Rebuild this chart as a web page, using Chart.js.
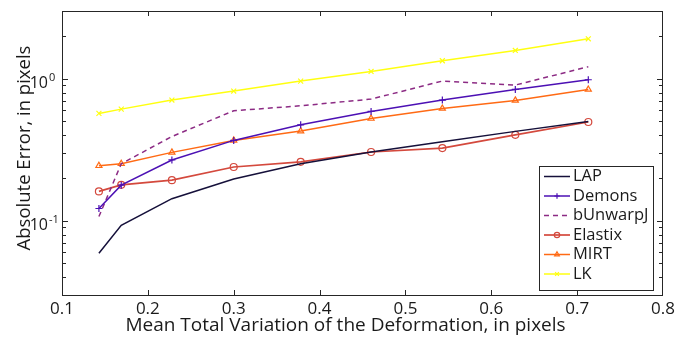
<!DOCTYPE html>
<html lang="en">
<head>
    <meta charset="UTF-8">
    <title>Absolute Error</title>
    <script src="https://cdn.jsdelivr.net/npm/chart.js@4"></script>
    <style>
        html, body { margin: 0; padding: 0; background: #fff; }
        .container-grafico { width: 691px; height: 339px; }
    </style>
</head>
<body>
    <div class="container-grafico">
        <canvas id="myChart"></canvas>
    </div>
<script>
    // valores
    var variacao = [0.143, 0.169, 0.228, 0.300, 0.378, 0.460, 0.543, 0.628, 0.713]
    var erroLAP = [0.059, 0.093, 0.143, 0.197, 0.252, 0.305, 0.360, 0.426, 0.500]
    var erroDemons = [0.122, 0.178, 0.268, 0.368, 0.474, 0.589, 0.708, 0.841, 0.984]
    var erroBUnwarpJ = [0.107, 0.252, 0.392, 0.595, 0.645, 0.719, 0.963, 0.903, 1.215]
    var erroElastix = [0.161, 0.179, 0.193, 0.239, 0.260, 0.305, 0.325, 0.403, 0.496]
    var erroMIRT = [0.244, 0.252, 0.303, 0.368, 0.428, 0.525, 0.618, 0.704, 0.841]
    var erroLK = [0.570, 0.611, 0.708, 0.819, 0.963, 1.126, 1.339, 1.582, 1.912]

    var ticksX = [0.1, 0.2, 0.3, 0.4, 0.5, 0.6, 0.7, 0.8]
    var ticksY = [0.1, 1]
    var expoentesY = ['-1', '0']
    var ticksMenoresY = [0.04, 0.05, 0.06, 0.07, 0.08, 0.09, 0.2, 0.3, 0.4, 0.5, 0.6, 0.7, 0.8, 0.9, 2]

    var tituloX = 'Mean Total Variation of the Deformation, in pixels'
    var tituloY = 'Absolute Error, in pixels'
    var fonte = "'Open Sans', sans-serif"

    function pontos(valores) {
        return variacao.map((x, i) => ({ x: x, y: valores[i] }))
    }

    // moldura, ticks para dentro, rotulos do eixo y, titulos e legenda
    var pluginMoldura = {
        id: 'moldura',
        afterDraw(chart) {
            var ctx = chart.ctx
            var area = chart.chartArea
            var sx = chart.scales.x
            var sy = chart.scales.y
            ctx.save()
            ctx.strokeStyle = '#262626'
            ctx.lineWidth = 1
            ctx.strokeRect(area.left + 0.5, area.top + 0.5, area.right - area.left - 1, area.bottom - area.top)

            ctx.beginPath()
            ticksX.slice(1, -1).forEach((v) => {
                var px = Math.round(sx.getPixelForValue(v)) + 0.5
                ctx.moveTo(px, area.bottom); ctx.lineTo(px, area.bottom - 5)
                ctx.moveTo(px, area.top); ctx.lineTo(px, area.top + 5)
            })
            ticksY.forEach((v) => {
                var py = Math.round(sy.getPixelForValue(v)) + 0.5
                ctx.moveTo(area.left, py); ctx.lineTo(area.left + 6, py)
                ctx.moveTo(area.right, py); ctx.lineTo(area.right - 6, py)
            })
            ticksMenoresY.forEach((v) => {
                var py = Math.round(sy.getPixelForValue(v)) + 0.5
                ctx.moveTo(area.left, py); ctx.lineTo(area.left + 4, py)
                ctx.moveTo(area.right, py); ctx.lineTo(area.right - 4, py)
            })
            ctx.stroke()

            // rotulos 10^n
            ctx.fillStyle = '#1a1a1a'
            ticksY.forEach((v, i) => {
                var py = sy.getPixelForValue(v)
                ctx.textBaseline = 'alphabetic'
                ctx.textAlign = 'right'
                ctx.font = '16px ' + fonte
                ctx.fillText('10', area.left - 14, py + 9)
                ctx.textAlign = 'left'
                ctx.font = '11px ' + fonte
                ctx.fillText(expoentesY[i], area.left - 13, py + 2)
            })

            // titulos
            ctx.textAlign = 'center'
            ctx.textBaseline = 'middle'
            ctx.font = '19px ' + fonte
            ctx.fillText(tituloX, chart.width / 2, 326)

            ctx.save()
            ctx.translate(25, 148)
            ctx.rotate(-Math.PI / 2)
            ctx.font = '18.5px ' + fonte
            ctx.fillText(tituloY, 0, 0)
            ctx.restore()

            // legenda
            var caixa = { left: 539, top: 166, right: 653, bottom: 290 }
            ctx.fillStyle = '#fff'
            ctx.fillRect(caixa.left, caixa.top, caixa.right - caixa.left, caixa.bottom - caixa.top)
            ctx.strokeStyle = '#262626'
            ctx.lineWidth = 1
            ctx.strokeRect(caixa.left + 0.5, caixa.top + 0.5, caixa.right - caixa.left, caixa.bottom - caixa.top)
            chart.data.datasets.forEach((ds, i) => {
                var y = 176.5 + i * 19.5
                ctx.strokeStyle = ds.borderColor
                ctx.lineWidth = ds.borderWidth
                ctx.setLineDash(ds.borderDash || [])
                ctx.beginPath()
                ctx.moveTo(544, y); ctx.lineTo(570, y)
                ctx.stroke()
                ctx.setLineDash([])
                if (ds.pointRadius > 0) {
                    ctx.fillStyle = 'rgba(0,0,0,0)'
                    ctx.lineWidth = 1.2
                    Chart.helpers.drawPoint(ctx, {
                        pointStyle: ds.pointStyle,
                        radius: ds.pointRadius - 0.8,
                        rotation: 0,
                        borderWidth: 1.2
                    }, 557, y)
                }
                ctx.fillStyle = '#1a1a1a'
                ctx.font = '16.5px ' + fonte
                ctx.textAlign = 'left'
                ctx.textBaseline = 'middle'
                ctx.fillText(ds.label, 573, y)
            })
            ctx.restore()
        }
    }

    function serie(label, valores, cor, estilo, extra) {
        return Object.assign({
            label: label,
            data: pontos(valores),
            borderColor: cor,
            backgroundColor: 'rgba(0,0,0,0)',
            borderWidth: 1.5,
            pointStyle: estilo || 'circle',
            pointRadius: estilo ? 3.5 : 0,
            pointBorderWidth: 1.2,
            pointBorderColor: cor,
            pointBackgroundColor: 'rgba(0,0,0,0)',
            tension: 0,
            fill: false
        }, extra || {})
    }

    const ctx = document.getElementById('myChart')

    var graficoErro = new Chart(ctx, {
        type: 'line',
        data: {
            datasets: [
                serie('LAP', erroLAP, '#15103a', null),
                serie('Demons', erroDemons, '#4c10b4', 'cross'),
                serie('bUnwarpJ', erroBUnwarpJ, '#8c2b84', null, { borderDash: [5, 4] }),
                serie('Elastix', erroElastix, '#d4493d', 'circle', { borderWidth: 1.7 }),
                serie('MIRT', erroMIRT, '#ff6a14', 'triangle'),
                serie('LK', erroLK, '#ffff10', 'crossRot')
            ]
        },
        options: {
            responsive: true,
            maintainAspectRatio: false,
            animation: false,
            layout: { padding: { left: 0, right: 28, top: 11, bottom: 0 } },
            plugins: {
                legend: { display: false },
                tooltip: { enabled: false }
            },
            scales: {
                x: {
                    type: 'linear',
                    min: 0.1,
                    max: 0.8,
                    afterBuildTicks: (scale) => { scale.ticks = ticksX.map((v) => ({ value: v })) },
                    afterFit: (scale) => { scale.height = 44 },
                    grid: { display: false, drawTicks: false },
                    border: { display: false },
                    ticks: {
                        padding: 4,
                        color: '#1a1a1a',
                        font: { family: fonte, size: 17 },
                        callback: (v) => v.toFixed(1)
                    }
                },
                y: {
                    type: 'logarithmic',
                    min: 0.03,
                    max: 3,
                    afterFit: (scale) => { scale.width = 62 },
                    grid: { display: false, drawTicks: false },
                    border: { display: false },
                    ticks: { display: false }
                }
            }
        },
        plugins: [pluginMoldura]
    })
</script>
</body>
</html>
